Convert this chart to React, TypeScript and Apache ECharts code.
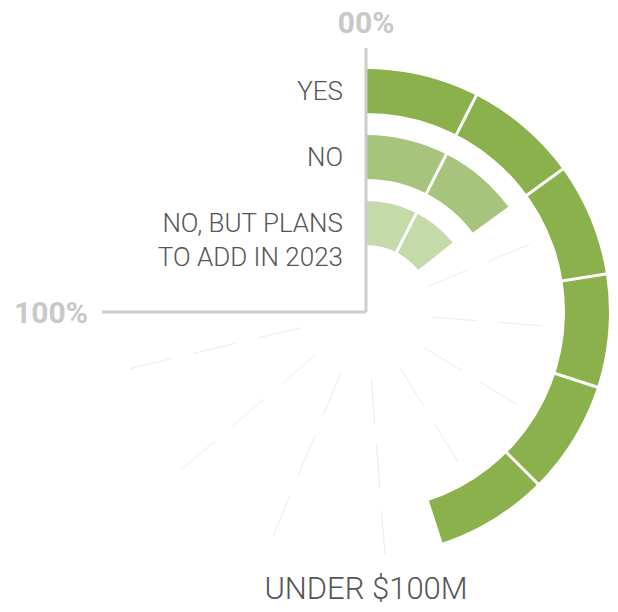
import React, { useEffect, useRef } from "react";
import * as echarts from "echarts";

const categories = ["YES", "NO", "NO, BUT PLANS\nTO ADD IN 2023"];
const values = [60, 20, 19];
const barColors = ["#8ab14c", "#a6c47c", "#c5daa9"];
const title = "UNDER $100M";
const startLabel = "00%";
const endLabel = "100%";

const CX = 366;
const CY = 312;
const FULL = 100 / 0.75; // 100% spans 270 degrees
const AXIS_LEN = 264;

export default function App() {
  const ref = useRef<HTMLDivElement>(null);
  useEffect(() => {
    document.body.style.margin = "0";
    const chart = echarts.init(ref.current!, undefined, { renderer: "svg" });

    // white separators at every 10% across the bars
    const whiteColors: string[] = [];
    for (let v = 0; v <= 140; v += 10) whiteColors.push(v > 0 && v < 100 ? "#ffffff" : "rgba(0,0,0,0)");
    // faint dashed ticks at 25%, 35% ... 95%
    const faintColors: string[] = [];
    for (let v = 0; v <= 140; v += 5) faintColors.push(v % 10 === 5 && v >= 25 && v <= 95 ? "#efedde" : "rgba(0,0,0,0)");

    chart.setOption({
      animation: false,
      polar: [
        { center: [CX, CY], radius: [56, 254] },
        { center: [CX, CY], radius: [66, 243] },
      ],
      angleAxis: [
        {
          polarIndex: 0,
          type: "value",
          min: 0,
          max: FULL,
          interval: 10,
          startAngle: 90,
          clockwise: true,
          z: 5,
          axisLine: { show: false },
          axisTick: { show: false },
          axisLabel: { show: false },
          splitLine: { show: true, lineStyle: { color: whiteColors, width: 3 } },
        },
        {
          polarIndex: 1,
          type: "value",
          min: 0,
          max: FULL,
          interval: 5,
          startAngle: 90,
          clockwise: true,
          z: 0,
          axisLine: { show: false },
          axisTick: { show: false },
          axisLabel: { show: false },
          splitLine: { show: true, lineStyle: { color: faintColors, width: 1, type: [44, 22] } },
        },
      ],
      radiusAxis: [
        {
          polarIndex: 0,
          type: "category",
          data: categories,
          inverse: true,
          z: 10,
          axisLine: { show: false },
          axisTick: { show: false },
          splitLine: { show: false },
          axisLabel: {
            show: true,
            interval: 0,
            hideOverlap: false,
            margin: 23,
            fontFamily: "Roboto",
            fontWeight: 300,
            fontSize: 26,
            lineHeight: 34,
            color: "#555555",
            formatter: (v: string) => (v.includes("\n") ? "\n" + v : v),
          },
        },
        {
          polarIndex: 1,
          type: "value",
          show: false,
        },
      ],
      series: [
        {
          type: "bar",
          coordinateSystem: "polar",
          polarIndex: 0,
          barWidth: 44,
          z: 2,
          data: values.map((v, i) => ({ value: v, itemStyle: { color: barColors[i] } })),
        },
      ],
      graphic: [
        {
          type: "line",
          z: 100,
          shape: { x1: CX, y1: CY, x2: CX, y2: CY - AXIS_LEN },
          style: { stroke: "#cccccc", lineWidth: 3 },
        },
        {
          type: "line",
          z: 100,
          shape: { x1: CX, y1: CY, x2: CX - AXIS_LEN, y2: CY },
          style: { stroke: "#cccccc", lineWidth: 3 },
        },
        {
          type: "text",
          z: 100,
          x: CX,
          y: 22,
          style: {
            text: startLabel,
            fill: "#c8c8c8",
            font: "bold 30px Roboto",
            align: "center",
            verticalAlign: "middle",
          },
        },
        {
          type: "text",
          z: 100,
          x: 51,
          y: 312,
          style: {
            text: endLabel,
            fill: "#c8c8c8",
            font: "bold 30px Roboto",
            align: "center",
            verticalAlign: "middle",
          },
        },
        {
          type: "text",
          z: 100,
          x: CX,
          y: 588,
          style: {
            text: title,
            fill: "#555555",
            font: "300 31px Roboto",
            align: "center",
            verticalAlign: "middle",
          },
        },
      ],
    });
    return () => chart.dispose();
  }, []);
  return <div ref={ref} style={{ width: 618, height: 612 }} />;
}
